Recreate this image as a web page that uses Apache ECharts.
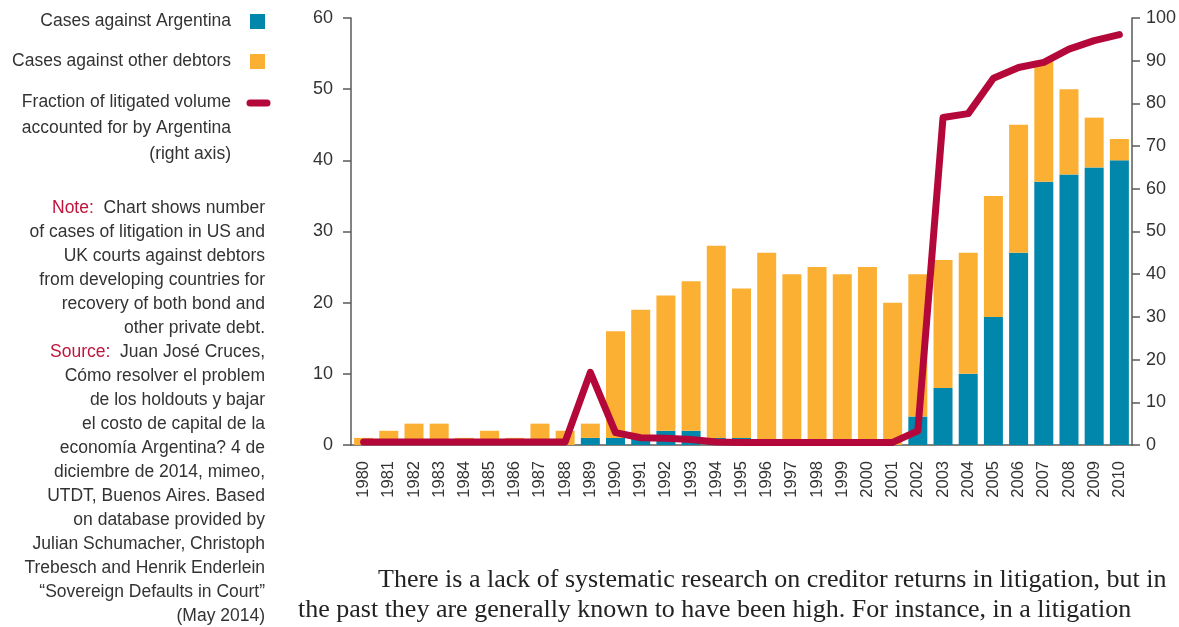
<!DOCTYPE html>
<html><head><meta charset="utf-8">
<script src="https://cdn.jsdelivr.net/npm/echarts@6/dist/echarts.min.js"></script>
<style>html,body{margin:0;padding:0;background:#fff;}#c{width:1179px;height:627px;}</style>
</head><body><div id="c"></div>
<script>
const years = ['1980','1981','1982','1983','1984','1985','1986','1987','1988','1989','1990','1991','1992','1993','1994','1995','1996','1997','1998','1999','2000','2001','2002','2003','2004','2005','2006','2007','2008','2009','2010'];
const casesArgentina = [0,0,0,0,0,0,0,0,0,1,1,1,2,2,1,1,0,0,0,0,0,0,4,8,10,18,27,37,38,39,40];
const casesOther = [1,2,3,3,1,2,1,3,2,2,15,18,19,21,27,21,27,24,25,24,25,20,20,18,17,17,18,17,12,7,3];
const fractionArgentina = [0.7,0.7,0.7,0.7,0.7,0.7,0.7,0.7,0.7,17,2.9,1.7,1.6,1.3,0.7,0.6,0.6,0.6,0.6,0.6,0.6,0.6,3.3,76.7,77.6,85.9,88.4,89.6,92.7,94.7,96.1];
const leftTicks = {min:0,max:60,interval:10};
const rightTicks = {min:0,max:100,interval:10};

const BLUE='#0087ab', ORANGE='#fbb034', RED='#b5083a', AXIS='#5a5a5a', TXT='#333';
const sans = '"Liberation Sans", Arial, sans-serif';
const serif = '"Liberation Serif", "DejaVu Serif", serif';

const chart = echarts.init(document.getElementById('c'), null, {renderer:'canvas'});
chart.setOption({
  animation:false,
  backgroundColor:'#fff',
  grid:{left:351,right:47,top:18,bottom:182},
  xAxis:{type:'category',data:years,boundaryGap:true,
    axisLine:{lineStyle:{color:AXIS,width:1.5}},
    axisTick:{interval:0,length:8,lineStyle:{color:AXIS,width:1.5}},
    axisLabel:{interval:0,rotate:90,fontSize:16.5,color:TXT,fontFamily:sans,margin:16}},
  yAxis:[
    {type:'value',min:leftTicks.min,max:leftTicks.max,interval:leftTicks.interval,position:'left',
     splitLine:{show:false},axisLine:{show:true,lineStyle:{color:AXIS,width:1.5}},
     axisTick:{show:true,length:8,lineStyle:{color:AXIS,width:1.5}},
     axisLabel:{fontSize:18,color:TXT,fontFamily:sans,margin:18}},
    {type:'value',min:rightTicks.min,max:rightTicks.max,interval:rightTicks.interval,position:'right',
     splitLine:{show:false},axisLine:{show:true,lineStyle:{color:AXIS,width:1.5}},
     axisTick:{show:true,length:8,lineStyle:{color:AXIS,width:1.5}},
     axisLabel:{fontSize:18,color:TXT,fontFamily:sans,margin:14}}
  ],
  series:[
    {name:'Cases against Argentina',type:'bar',stack:'c',data:casesArgentina,barWidth:19,itemStyle:{color:BLUE},yAxisIndex:0},
    {name:'Cases against other debtors',type:'bar',stack:'c',data:casesOther,barWidth:19,itemStyle:{color:ORANGE},yAxisIndex:0},
    {name:'Fraction of litigated volume accounted for by Argentina (right axis)',type:'line',data:fractionArgentina,yAxisIndex:1,
     symbol:'none',smooth:false,lineStyle:{color:RED,width:7,cap:'round',join:'round'},z:5}
  ],
  graphic:[
    {type:'text',x:231,y:12,style:{text:'Cases against Argentina',font:'17.5px '+sans,fill:TXT,align:'right',verticalAlign:'top'}},
    {type:'rect',shape:{x:250,y:14,width:15,height:15},style:{fill:BLUE}},
    {type:'text',x:231,y:52,style:{text:'Cases against other debtors',font:'17.5px '+sans,fill:TXT,align:'right',verticalAlign:'top'}},
    {type:'rect',shape:{x:250,y:54,width:15,height:15},style:{fill:ORANGE}},
    {type:'text',x:231,y:89,style:{text:'Fraction of litigated volume\naccounted for by Argentina\n(right axis)',font:'17.5px '+sans,fill:TXT,align:'right',verticalAlign:'top',lineHeight:26}},
    {type:'line',shape:{x1:250,y1:103,x2:267,y2:103},style:{stroke:RED,lineWidth:7,lineCap:'round'}},
    {type:'text',x:265,y:196,style:{
      text:'{r|Note:}  Chart shows number\nof cases of litigation in US and\nUK courts against debtors\nfrom developing countries for\nrecovery of both bond and\nother private debt.\n{r|Source:}  Juan José Cruces,\nCómo resolver el problem\nde los holdouts y bajar\nel costo de capital de la\neconomía Argentina? 4 de\ndiciembre de 2014, mimeo,\nUTDT, Buenos Aires. Based\non database provided by\nJulian Schumacher, Christoph\nTrebesch and Henrik Enderlein\n\u201CSovereign Defaults in Court\u201D\n(May 2014)',
      font:'17.5px '+sans,fill:TXT,align:'right',verticalAlign:'top',lineHeight:24,
      rich:{r:{fill:'#c0143c',font:'17.5px '+sans,lineHeight:24}}}},
    {type:'text',x:378,y:567,style:{text:'There is a lack of systematic research on creditor returns in litigation, but in',font:'26px '+serif,fill:'#222',verticalAlign:'top'}},
    {type:'text',x:298,y:597,style:{text:'the past they are generally known to have been high. For instance, in a litigation',font:'26px '+serif,fill:'#222',verticalAlign:'top'}}
  ]
});
</script></body></html>
